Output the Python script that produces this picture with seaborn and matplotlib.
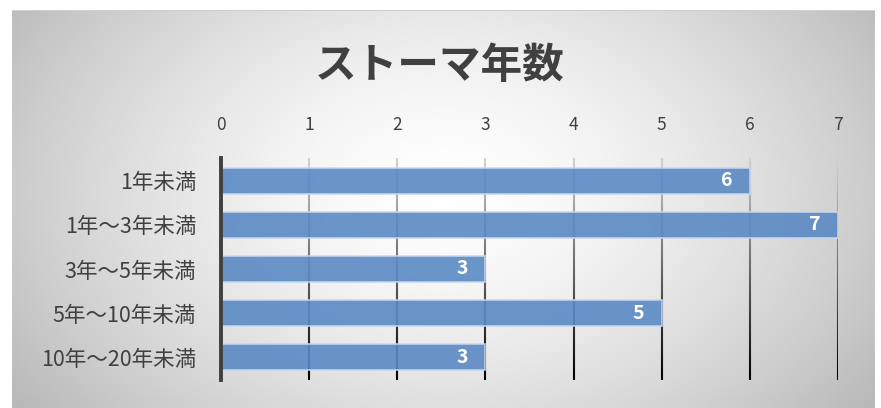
import matplotlib
matplotlib.use("Agg")
import matplotlib.pyplot as plt
import seaborn as sns
import numpy as np
import pandas as pd
from matplotlib.collections import LineCollection

# データ
categories = ["1年未満", "1年～3年未満", "3年～5年未満", "5年～10年未満", "10年～20年未満"]
counts = [6, 7, 3, 5, 3]
x_ticks = [0, 1, 2, 3, 4, 5, 6, 7]
title = "ストーマ年数"

df = pd.DataFrame({"cat": categories, "n": counts})

sns.set_theme(style="white")
plt.rcParams['font.family'] = ['Noto Sans CJK JP', 'DejaVu Sans']

fig = plt.figure(figsize=(8.81, 4.08), dpi=100)
fig.patch.set_facecolor("white")

# --- fondo con degradado radial ---
bg = fig.add_axes([12 / 881, 0, 863 / 881, 398 / 408])
h, w = 200, 430
yy, xx = np.mgrid[0:h, 0:w]
r = np.sqrt(((xx - w * 0.5) / (w * 0.6)) ** 2 + ((yy - h * 0.45) / (h * 0.9)) ** 2)
r = np.clip(r, 0, 1)
shade = 1.0 - 0.27 * r ** 1.5
bg.imshow(shade, cmap="gray", vmin=0, vmax=1, aspect="auto", interpolation="bicubic")
bg.set_axis_off()
bg.axhline(-0.5, color="#cfcfcf", lw=1.5)

# --- gráfico principal ---
ax = fig.add_axes([221 / 881, 28 / 408, 617 / 881, 222 / 408])
ax.patch.set_alpha(0)
sns.barplot(data=df, x="n", y="cat", orient="h", color="#5b8ac4", width=0.59,
            saturation=1, alpha=0.9, edgecolor="#c9d8ec", linewidth=1.2, ax=ax, zorder=3)

ax.set_xlim(0, 7)
ax.set_ylim(4.52, -0.52)
ax.set_xticks(x_ticks)
ax.xaxis.tick_top()
ax.tick_params(axis="x", length=0, pad=17, labelsize=12.5, labelcolor="#404040")
ax.tick_params(axis="y", length=0, pad=18, labelsize=15.5, labelcolor="#404040")
ax.set_xlabel("")
ax.set_ylabel("")
for s in ["top", "right", "bottom"]:
    ax.spines[s].set_visible(False)
ax.spines["left"].set_color("#404040")
ax.spines["left"].set_linewidth(2.8)
ax.spines["left"].set_zorder(5)

# líneas de cuadrícula con degradado (claras arriba, oscuras abajo)
y0, y1 = ax.get_ylim()
ys = np.linspace(y1, y0, 60)
for t in x_ticks[1:]:
    segs = [[(t, ys[i]), (t, ys[i + 1])] for i in range(len(ys) - 1)]
    vals = np.linspace(0.82, 0.0, len(segs))
    cols = [(v, v, v) for v in vals]
    ax.add_collection(LineCollection(segs, colors=cols, linewidths=1.5, zorder=1))

ax.bar_label(ax.containers[0], labels=[str(v) for v in counts], padding=-21,
             color="white", fontweight="bold", fontsize=14, zorder=6)

fig.text(440 / 881, 1 - 66 / 408, title, ha="center", va="center",
         fontsize=30, fontweight="bold", color="#404040")

fig.savefig("out.png", dpi=100)
